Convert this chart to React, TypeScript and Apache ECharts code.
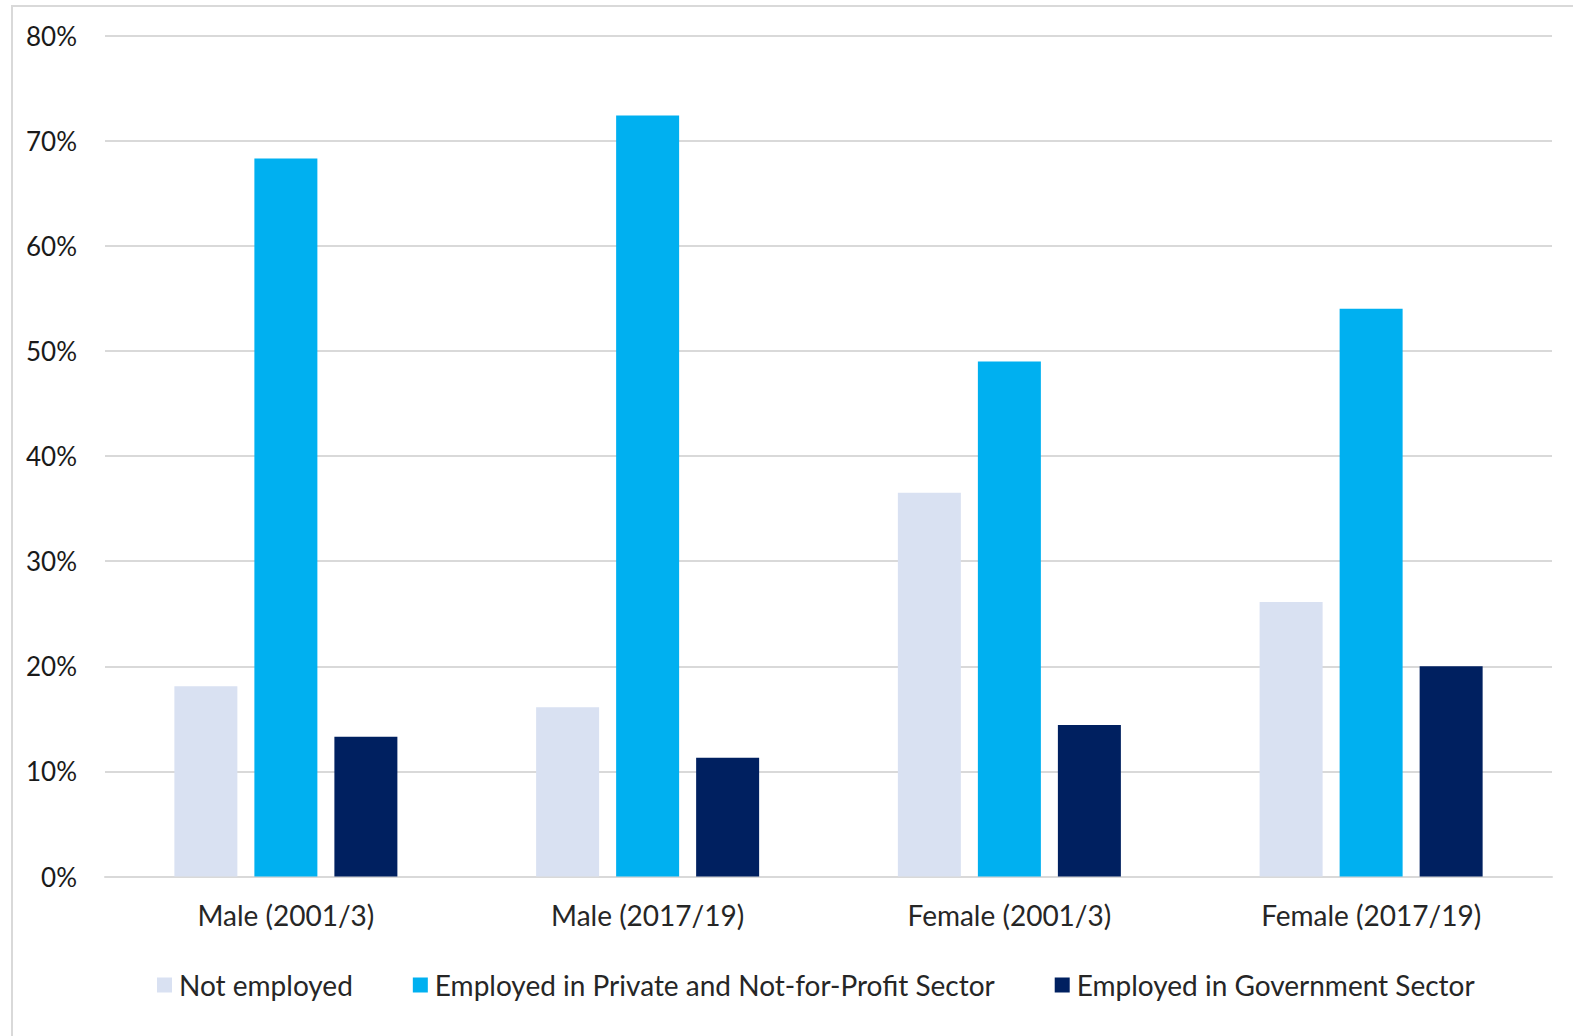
import React, { useEffect, useRef } from "react";
import * as echarts from "echarts";

const categories = ["Male (2001/3)", "Male (2017/19)", "Female (2001/3)", "Female (2017/19)"];
const seriesNames = [
  "Not employed",
  "Employed in Private and Not-for-Profit Sector",
  "Employed in Government Sector",
];
const notEmployed = [18.1, 16.1, 36.5, 26.1];
const privateSector = [68.3, 72.4, 49.0, 54.0];
const governmentSector = [13.3, 11.3, 14.4, 20.0];
const colors = ["#d9e1f2", "#00b0f0", "#002060"];

export default function App() {
  const ref = useRef<HTMLDivElement>(null);
  useEffect(() => {
    if (!ref.current) return;
    const chart = echarts.init(ref.current, null, { renderer: "svg" });
    const font = "Lato, 'Open Sans', sans-serif";
    const dataSets = [notEmployed, privateSector, governmentSector];
    chart.setOption({
      animation: false,
      backgroundColor: "#ffffff",
      textStyle: { fontFamily: font },
      graphic: [
        {
          type: "rect",
          shape: { x: 12, y: 6, width: 1700, height: 1200 },
          style: { fill: "none", stroke: "#d9d9d9", lineWidth: 2 },
          silent: true,
        },
      ],
      grid: { left: 105, right: 21, top: 35.5, bottom: 159.5, containLabel: false },
      legend: {
        data: seriesNames,
        left: 152,
        top: 966,
        itemWidth: 15,
        itemHeight: 15,
        itemGap: 60,
        icon: "rect",
        textStyle: { fontFamily: font, fontSize: 28, color: "#262626", padding: [0, 0, 0, 2] },
      },
      xAxis: {
        type: "category",
        data: categories,
        axisLine: { show: true, lineStyle: { color: "#d9d9d9", width: 2 } },
        axisTick: { show: false },
        axisLabel: { fontFamily: font, fontSize: 28, color: "#262626", margin: 24 },
      },
      yAxis: {
        type: "value",
        min: 0,
        max: 80,
        interval: 10,
        axisLine: { show: false },
        axisTick: { show: false },
        splitLine: { lineStyle: { color: "#d9d9d9", width: 2 } },
        axisLabel: {
          fontFamily: font,
          fontSize: 26,
          color: "#1a1a1a",
          margin: 28,
          formatter: (v: number) => `${v}%`,
        },
      },
      series: seriesNames.map((name, i) => ({
        name,
        type: "bar",
        data: dataSets[i],
        barWidth: 63,
        barGap: "27%",
        itemStyle: { color: colors[i] },
      })),
    });
    return () => chart.dispose();
  }, []);
  return (
    <div
      ref={ref}
      style={{ position: "absolute", left: 0, top: 0, width: 1573, height: 1036 }}
    />
  );
}
